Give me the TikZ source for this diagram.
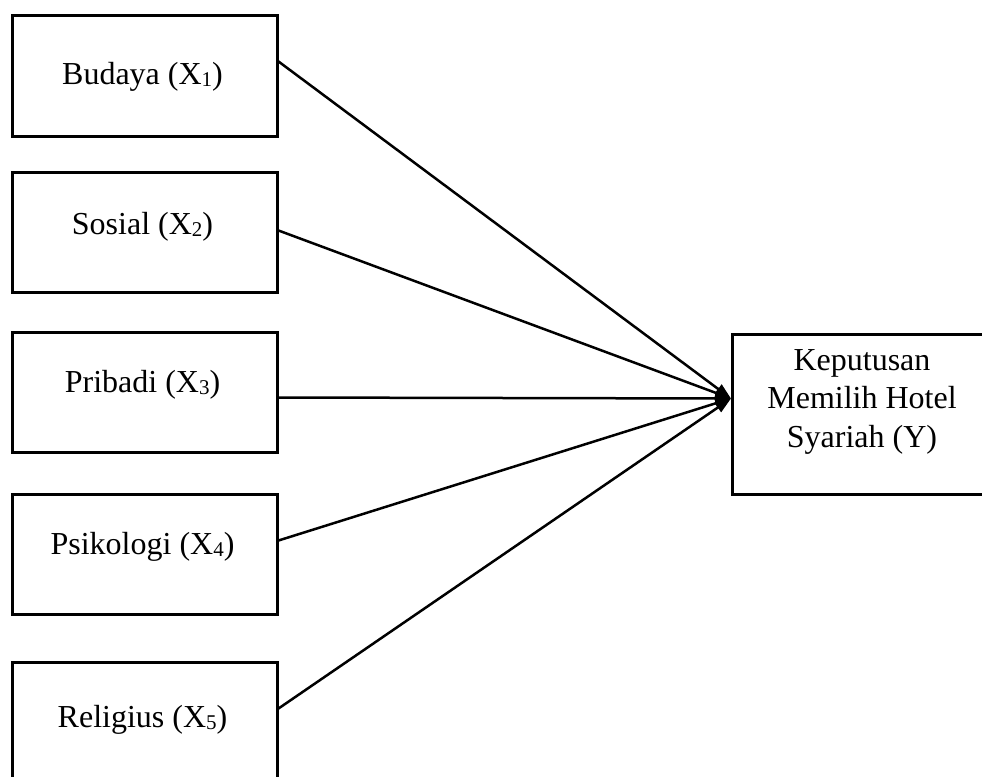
\documentclass[tikz,border=0pt]{standalone}
\usepackage{fontspec}
\setmainfont{Liberation Serif}
\usetikzlibrary{arrows.meta}
\newcommand{\sbx}[1]{\raisebox{-1.5pt}{\fontsize{21}{21}\selectfont #1}}
\tikzset{
  varbox/.style={draw, line width=3pt, rectangle, inner sep=0pt, anchor=north west,
    minimum width=265pt, minimum height=#1},
  ybox/.style={draw, line width=3pt, rectangle, inner sep=0pt, anchor=north west,
    minimum width=262pt, minimum height=160pt},
  lbl/.style={font=\fontsize{32}{38.5}\selectfont, inner sep=0pt, align=center},
  conn/.style={line width=2.5pt, -{Triangle[length=16pt,width=11pt]}}
}
\begin{document}
\begin{tikzpicture}[x=1pt,y=-1pt]
\clip (0,0) rectangle (982,776);
\fill[white] (0,0) rectangle (982,776);
\node[varbox=121pt] (b1) at (10.5,14) {};
\node[varbox=120pt] (b2) at (10.5,171) {};
\node[varbox=120pt] (b3) at (10.5,331) {};
\node[varbox=120pt] (b4) at (10.5,493) {};
\node[varbox=124pt] (b5) at (10.5,661) {};
\node[ybox] (y) at (731,332.7) {};
\node[lbl] (t1) at (142.5,77) {Budaya (X\sbx{1})};
\node[lbl] (t2) at (142.5,227) {Sosial (X\sbx{2})};
\node[lbl] (t3) at (142.5,385) {Pribadi (X\sbx{3})};
\node[lbl] (t4) at (142.5,547) {Psikologi (X\sbx{4})};
\node[lbl] (t5) at (142.5,720) {Religius (X\sbx{5})};
\node[lbl] (ty) at (862,401.5) {Keputusan\\Memilih Hotel\\Syariah (Y)};
\coordinate (tip) at ([yshift=15.7pt]y.west);
\draw[conn] ([yshift=14.5pt]b1.east) -- (tip);
\draw[conn] ([yshift=2pt]b2.east) -- (tip);
\draw[conn] ([yshift=-5pt]b3.east) -- (tip);
\draw[conn] ([yshift=14pt]b4.east) -- (tip);
\draw[conn] ([yshift=16pt]b5.east) -- (tip);
\end{tikzpicture}
\end{document}
